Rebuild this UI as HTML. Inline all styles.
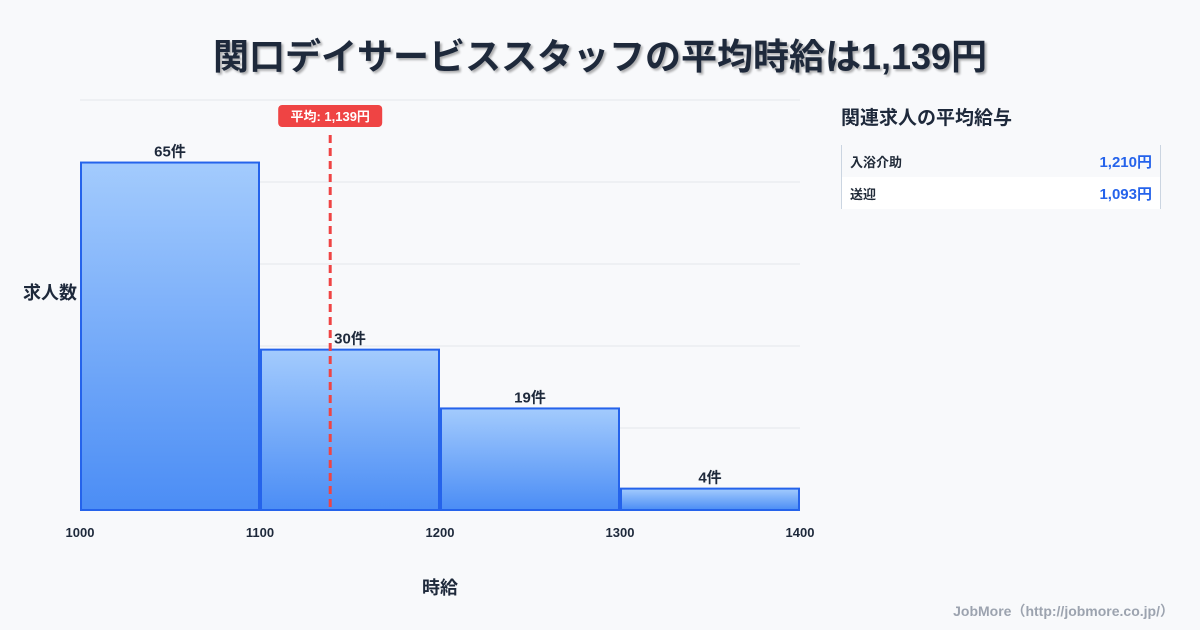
<!DOCTYPE html>
<html><head><meta charset="utf-8">
<style>
body{margin:0;width:1200px;height:630px;background:#f8f9fb;font-family:"Liberation Sans","Noto Sans CJK JP",sans-serif;overflow:hidden;position:relative;color:#1f2937}
.title{position:absolute;top:28px;left:0;width:1200px;text-align:center;font-size:36px;font-weight:bold;color:#1e293b;text-shadow:2px 2px 2px rgba(0,0,0,0.3)}
.panel-title{position:absolute;left:841px;top:103px;font-size:19px;font-weight:bold;color:#1e293b}
.panel{position:absolute;left:841px;top:145px;width:318px;border-left:1px solid #cbd5e1;border-right:1px solid #cbd5e1}
.row{height:32px;display:flex;justify-content:space-between;align-items:center;padding:0 8px;font-size:13px;font-weight:bold}
.row .v{color:#2563eb;font-size:15px}
.footer{position:absolute;right:26px;top:601px;font-size:14px;font-weight:bold;color:#9ca3af}
</style></head><body>
<div class="title">関口デイサービススタッフの平均時給は1,139円</div>
<svg id="chart" width="1200" height="630" style="position:absolute;left:0;top:0">
<defs><linearGradient id="g" x1="0" y1="0" x2="0" y2="1"><stop offset="0" stop-color="#a3cbfd"/><stop offset="1" stop-color="#4b8df5"/></linearGradient></defs>
</svg>
<div class="panel-title">関連求人の平均給与</div>
<div class="panel">
<div class="row" style="background:#f8f9fb"><span>入浴介助</span><span class="v">1,210円</span></div>
<div class="row" style="background:#fff"><span>送迎</span><span class="v">1,093円</span></div>
</div>
<div class="footer">JobMore（http://jobmore.co.jp/）</div>
<script>
const binStarts=[1000,1100,1200,1300];
const binWidth=100;
const counts=[65,30,19,4];
const xTicks=[1000,1100,1200,1300,1400];
const meanValue=1139;
const meanLabel="平均: 1,139円";
const NS="http://www.w3.org/2000/svg";
const svg=document.getElementById('chart');
const x0=80,x1=800,yB=510,yT=100;
const yMax=Math.max(...counts)*1.18;
const X=v=>x0+(v-1000)/(1400-1000)*(x1-x0);
const Y=v=>yB-v/yMax*(yB-yT);
function mk(t,a){const e=document.createElementNS(NS,t);for(const k in a)e.setAttribute(k,a[k]);svg.appendChild(e);return e;}
for(let i=0;i<=5;i++){const y=yB-i*(yB-yT)/5;
const l=mk('line',{x1:x0,x2:x1,y1:y,y2:y,stroke:'#e5e7eb','stroke-width':1});

}
counts.forEach((c,i)=>{
const xa=X(binStarts[i])+1,xb=X(binStarts[i]+binWidth)-1;
const r=mk('rect',{x:xa,y:Y(c),width:xb-xa,height:yB-Y(c),fill:'url(#g)',stroke:'#2563eb','stroke-width':2});


const t=mk('text',{x:(xa+xb)/2,y:Y(c)-6,'text-anchor':'middle','font-size':15,'font-weight':'bold',fill:'#1e293b'});
t.textContent=c+'件';


});
xTicks.forEach(v=>{const t=mk('text',{x:X(v),y:537,'text-anchor':'middle','font-size':13,'font-weight':'bold',fill:'#1e293b'});t.textContent=v;

});
const mx=X(meanValue);
const ml=mk('line',{x1:mx,x2:mx,y1:135,y2:yB,stroke:'#ef4444','stroke-width':3,'stroke-dasharray':'8,5'});


const mb=mk('rect',{x:mx-52,y:105,width:104,height:22,rx:4,fill:'#ef4444'});


const mt=mk('text',{x:mx,y:121,'text-anchor':'middle','font-size':13,'font-weight':'bold',fill:'#fff'});mt.textContent=meanLabel;


const yt=mk('text',{x:50,y:299,'text-anchor':'middle','font-size':18,'font-weight':'bold',fill:'#1e293b'});yt.textContent='求人数';


const xt=mk('text',{x:440,y:594,'text-anchor':'middle','font-size':18,'font-weight':'bold',fill:'#1e293b'});xt.textContent='時給';


</script>
</body></html>
